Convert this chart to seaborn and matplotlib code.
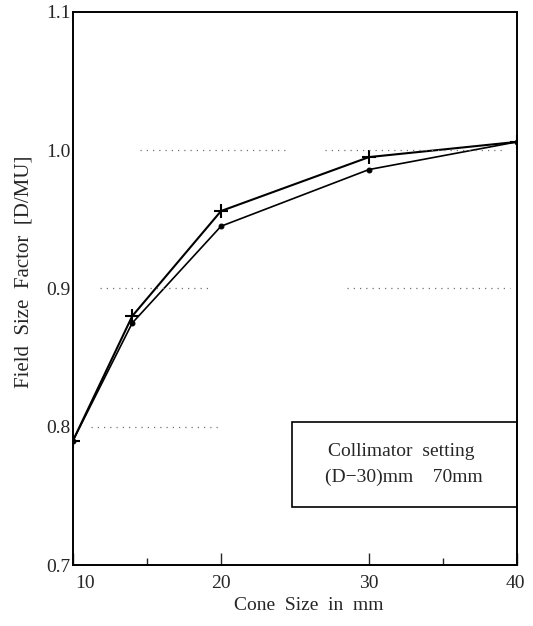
import matplotlib
matplotlib.use("Agg")
import matplotlib.pyplot as plt
import matplotlib.transforms as mtransforms
from matplotlib.patches import Rectangle
import seaborn as sns
import pandas as pd

cone_size = [10, 14, 20, 30, 40]
fsf_plus = [0.790, 0.880, 0.956, 0.995, 1.006]
fsf_dot = [0.790, 0.875, 0.945, 0.986, 1.006]
x_ticks = [10, 20, 30, 40]
y_ticks = [0.7, 0.8, 0.9, 1.0, 1.1]
y_tick_labels = ["0.7", "0.8", "0.9", "1.0", "1.1"]

df_plus = pd.DataFrame({"cone": cone_size, "fsf": fsf_plus})
df_dot = pd.DataFrame({"cone": cone_size, "fsf": fsf_dot})

sns.set_theme(style="white")
plt.rcParams["font.family"] = ["Liberation Serif", "DejaVu Serif"]

fig = plt.figure(figsize=(5.33, 6.26), dpi=100)
ax = fig.add_axes([0.137, 0.0974, 0.833, 0.8836])

sns.lineplot(data=df_plus, x="cone", y="fsf", color="black", marker="+",
             markersize=10, markeredgewidth=1.5, markeredgecolor="black",
             linewidth=1.5, ax=ax)
sns.lineplot(data=df_dot, x="cone", y="fsf", color="black", marker="o",
             markersize=3.5, markeredgecolor="black", markerfacecolor="black",
             linewidth=1.2, ax=ax)

# partial dotted reference lines
grid_segments = [(1.0, 14.5, 24.5), (1.0, 27.0, 39.0),
                 (0.9, 11.8, 19.3), (0.9, 28.5, 39.5),
                 (0.8, 11.2, 20.0)]
for yv, x0, x1 in grid_segments:
    ax.plot([x0, x1], [yv, yv], linestyle=(0, (1, 4)), color="0.45", linewidth=0.9)

ax.set_xlim(10, 40)
ax.set_ylim(0.7, 1.1)
ax.set_xticks(x_ticks)
ax.set_xticks([15, 35], minor=True)
ax.set_yticks(y_ticks)
ax.set_yticklabels(y_tick_labels)
ax.tick_params(axis="x", which="major", direction="in", length=9, width=1.0,
               labelsize=14, pad=7, bottom=True)
ax.tick_params(axis="x", which="minor", direction="in", length=5, width=1.0, bottom=True)
ax.tick_params(axis="y", length=0, labelsize=14, pad=2)
for lab in ax.get_xticklabels():
    if lab.get_text() == "10":
        lab.set_transform(lab.get_transform() + mtransforms.ScaledTranslation(0.12, 0, fig.dpi_scale_trans))
    if lab.get_text() == "40":
        lab.set_transform(lab.get_transform() + mtransforms.ScaledTranslation(-0.02, 0, fig.dpi_scale_trans))

for sp in ax.spines.values():
    sp.set_color("black")
    sp.set_linewidth(1.4)

ax.set_xlabel("Cone  Size  in  mm", fontsize=14)
ax.xaxis.set_label_coords(0.53, -0.058)
ax.set_ylabel("Field  Size  Factor  [D/MU]", fontsize=15)
ax.yaxis.set_label_coords(-0.09, 0.53)

ax.add_patch(Rectangle((0.493, 0.105), 0.507, 0.154, transform=ax.transAxes,
                       fill=False, edgecolor="black", linewidth=1.2))
ax.text(0.575, 0.205, "Collimator  setting", transform=ax.transAxes,
        fontsize=14, va="center", ha="left")
ax.text(0.568, 0.158, "(D\u221230)mm    70mm", transform=ax.transAxes,
        fontsize=14, va="center", ha="left")

fig.savefig("out.png", dpi=100)
